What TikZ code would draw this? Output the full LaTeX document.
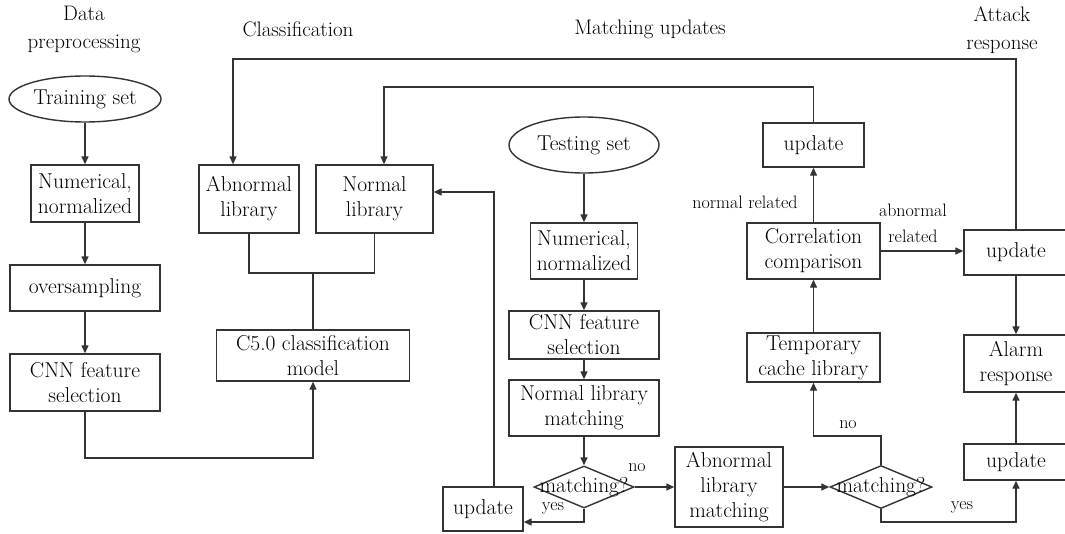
\documentclass[tikz,border=0pt]{standalone}
\usepackage{fontspec}
\usetikzlibrary{arrows.meta,shapes.geometric}
\definecolor{ln}{HTML}{333333}
\begin{document}
\begin{tikzpicture}[x=1pt,y=-1pt,
  every node/.style={font=\fontsize{21.5}{25}\selectfont, align=center, inner sep=0pt},
  box/.style={draw=ln, line width=1.4pt, rectangle},
  oval/.style={draw=ln, line width=1.4pt, ellipse},
  dia/.style={draw=ln, line width=1.4pt, diamond},
  lbl/.style={font=\fontsize{18}{26}\selectfont},
  ttl/.style={font=\fontsize{21}{28}\selectfont},
  conn/.style={draw=ln, line width=1.4pt},
  arr/.style={conn, -{Triangle[length=8pt,width=7pt]}}
]
\useasboundingbox (0,0) rectangle (1065,533);

% titles
\node[ttl] (h1) at (84,29) {Data\\preprocessing};
\node[ttl] (h2) at (298,29) {Classification};
\node[ttl] (h3) at (650,29) {Matching updates};
\node[ttl] (h4) at (1002,30) {Attack\\response};

% left column
\node[oval, minimum width=152pt, minimum height=46pt] (ts) at (85,99) {Training set};
\node[box, minimum width=108pt, minimum height=57pt] (n1) at (85,193.5) {Numerical,\\normalized};
\node[box, minimum width=150pt, minimum height=46pt] (os) at (85,288) {oversampling};
\node[box, minimum width=150pt, minimum height=57pt] (c1) at (85,382.5) {CNN feature\\selection};

% classification
\node[box, minimum width=193pt, minimum height=51pt] (c50) at (313,355.5) {C5.0 classification\\model};
\node[box, minimum width=100pt, minimum height=68pt] (ab) at (249,199) {Abnormal\\library};
\node[box, minimum width=117pt, minimum height=68pt] (nl) at (374.5,199) {Normal\\library};

% testing column
\node[oval, minimum width=150pt, minimum height=56pt] (tes) at (584,145) {Testing set};
\node[box, minimum width=107pt, minimum height=56pt] (n2) at (584,251) {Numerical,\\normalized};
\node[box, minimum width=150pt, minimum height=48pt] (c2) at (584,335) {CNN feature\\selection};
\node[box, minimum width=150pt, minimum height=56pt] (nlm) at (584,408) {Normal library\\matching};
\node[dia, minimum width=100pt, minimum height=42pt] (d1) at (584,487) {\makebox[0pt]{matching?}};
\node[box, minimum width=80pt, minimum height=44pt] (upl) at (483,509) {update};
\node[box, minimum width=108pt, minimum height=80pt] (alm) at (729,487) {Abnormal\\library\\matching};
\node[dia, minimum width=102pt, minimum height=43pt] (d2) at (881,487) {\makebox[0pt]{matching?}};

% right part
\node[box, minimum width=133pt, minimum height=49pt] (tmp) at (813.5,357.5) {Temporary\\cache library};
\node[box, minimum width=133pt, minimum height=56pt] (cor) at (813.5,251) {Correlation\\comparison};
\node[box, minimum width=101pt, minimum height=44pt] (upt) at (813.5,145) {update};
\node[box, minimum width=104pt, minimum height=45pt] (upr) at (1016,252.5) {update};
\node[box, minimum width=104pt, minimum height=57pt] (alr) at (1016,363.5) {Alarm\\response};
\node[box, minimum width=104pt, minimum height=36pt] (upb) at (1016,462) {update};

% left connectors
\draw[arr] (ts) -- (n1);
\draw[arr] (n1) -- (os);
\draw[arr] (os) -- (c1);
\coordinate (k1) at (85,458);
\draw[arr] (c1.south) -- (k1) -| (c50.south);

% library joins
\coordinate (j1) at (249,273);
\coordinate (j2) at (374.5,273);
\draw[conn] (ab.south) -- (j1) -- (j2) -- (nl.south);
\draw[conn] (c50.north) -- (c50.north |- j1);

% feedback lines
\coordinate (t1) at (1016,59);
\draw[arr] (upr.north) -- (t1) -| ([xshift=-16pt]ab.north);
\coordinate (t2) at (813.5,87);
\draw[arr] (upt.north) -- (t2) -| ([xshift=9.5pt]nl.north);
\coordinate (t3) at (494,192);
\draw[arr] ([xshift=11pt]upl.north) -- (t3) -- (t3 -| nl.east);

% testing column connectors
\draw[arr] (tes) -- (n2);
\draw[arr] (n2) -- (c2);
\draw[arr] (c2) -- (nlm);
\draw[arr] (nlm) -- (d1);
\draw[arr] (d1.east) -- (alm.west);
\node[lbl] (lno1) at (637,468) {no};
\coordinate (y1) at (584,522);
\draw[arr] (d1.south) -- (y1) -- (y1 -| upl.east);
\node[lbl] (lyes1) at (553,508) {yes};

\draw[arr] (alm.east) -- (d2.west);
\coordinate (n3) at (881,436);
\draw[arr] (d2.north) -- (n3) -| (tmp.south);
\node[lbl] (lno2) at (848,425) {no};
\coordinate (y2) at (881,522);
\draw[arr] (d2.south) -- (y2) -| (upb.south);
\node[lbl] (lyes2) at (962,507) {yes};

% right connectors
\draw[arr] (tmp) -- (cor);
\draw[arr] (cor) -- (upt);
\node[lbl] (lnr) at (745,202) {normal related};
\draw[arr] (cor.east) -- (cor.east -| upr.west);
\node[lbl] (lar) at (913,223) {abnormal\\related};
\draw[arr] (upr) -- (alr);
\draw[arr] (upb) -- (alr);
\end{tikzpicture}
\end{document}
